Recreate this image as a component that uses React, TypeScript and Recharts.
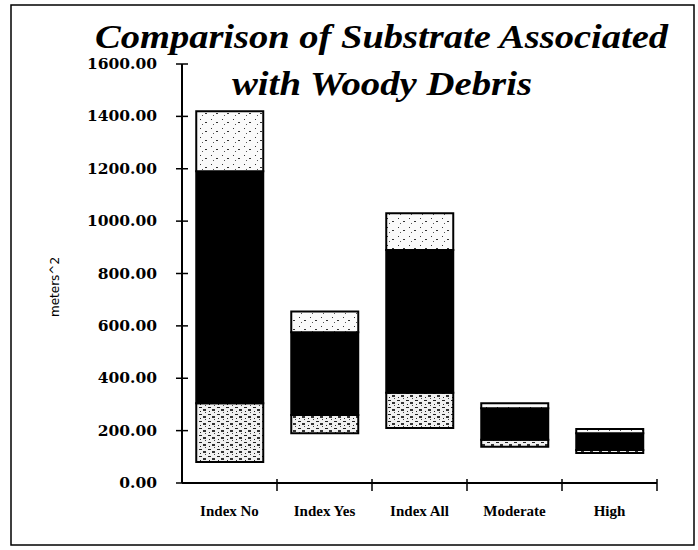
import * as React from "react";
import { BarChart, Bar, XAxis, YAxis } from "recharts";

const categories = ["Index No", "Index Yes", "Index All", "Moderate", "High"];
// invisible offset: bars float above zero
const baseValues = [80, 190, 210, 138, 115];
const lowerValues = [225, 70, 135, 27, 11];
const middleValues = [885, 316, 545, 120, 64];
const upperValues = [230, 79, 140, 20, 16];
const yTicks = [0, 200, 400, 600, 800, 1000, 1200, 1400, 1600];

const data = categories.map((name, i) => ({
  name,
  base: baseValues[i],
  lower: lowerValues[i],
  middle: middleValues[i],
  upper: upperValues[i],
}));

const W = 698;
const H = 550;
const margin = { top: 64, right: 41, bottom: 0, left: 0 };
const yAxisWidth = 182;
const xAxisHeight = 67;
const bandWidth = (W - margin.right - yAxisWidth - margin.left) / categories.length;

const YTick = (props: any) => {
  const { x, y, payload } = props;
  return (
    <g>
      <line x1={x - 6} x2={x + 6} y1={y} y2={y} stroke="#000" strokeWidth={1.5} />
      <text
        x={x - 25}
        y={y}
        dy={5}
        textAnchor="end"
        fontFamily="'DejaVu Serif', serif"
        fontWeight="bold"
        fontSize={15.5}
        fill="#000"
      >
        {payload.value.toFixed(2)}
      </text>
    </g>
  );
};

const XTick = (props: any) => {
  const { x, y, payload } = props;
  return (
    <g>
      <line x1={x + bandWidth / 2} x2={x + bandWidth / 2} y1={y - 6} y2={y + 6} stroke="#000" strokeWidth={1.5} />
      <text
        x={x}
        y={y + 31}
        textAnchor="middle"
        fontFamily="'Liberation Serif', serif"
        fontWeight="bold"
        fontSize={15}
        fill="#000"
      >
        {payload.value}
      </text>
    </g>
  );
};

export default function App() {
  return (
    <div style={{ position: "absolute", left: 0, top: 0, width: W, height: H, background: "#fff" }}>
      <BarChart width={W} height={H} data={data} margin={margin} barCategoryGap="15%">
        <defs>
          <pattern id="speckleDense" width="9" height="7" patternUnits="userSpaceOnUse">
            <rect width="9" height="7" fill="#f0f0f0" />
            <rect x="1" y="1" width="3" height="1" fill="#222" />
            <rect x="5" y="3" width="3" height="2" fill="#333" />
            <rect x="2" y="5" width="1" height="1" fill="#222" />
            <rect x="7" y="6" width="1" height="1" fill="#444" />
          </pattern>
          <pattern id="speckleLight" width="11" height="9" patternUnits="userSpaceOnUse">
            <rect width="11" height="9" fill="#fafafa" />
            <rect x="2" y="2" width="1" height="1" fill="#333" />
            <rect x="7" y="5" width="2" height="1" fill="#333" />
            <rect x="4" y="7" width="1" height="1" fill="#555" />
          </pattern>
        </defs>
        <XAxis
          dataKey="name"
          height={xAxisHeight}
          axisLine={{ stroke: "#000", strokeWidth: 2 }}
          tickLine={false}
          tickSize={0}
          tick={<XTick />}
          interval={0}
        />
        <YAxis
          width={yAxisWidth}
          domain={[0, 1600]}
          ticks={yTicks}
          axisLine={{ stroke: "#000", strokeWidth: 2 }}
          tickLine={false}
          tickSize={0}
          tickMargin={0}
          tick={<YTick />}
          interval={0}
        />
        <Bar dataKey="base" stackId="a" fill="transparent" isAnimationActive={false} />
        <Bar dataKey="lower" stackId="a" fill="url(#speckleDense)" stroke="#000" strokeWidth={2} isAnimationActive={false} />
        <Bar dataKey="middle" stackId="a" fill="#000" stroke="#000" strokeWidth={2} isAnimationActive={false} />
        <Bar dataKey="upper" stackId="a" fill="url(#speckleLight)" stroke="#000" strokeWidth={2} isAnimationActive={false} />
      </BarChart>
      <svg width={W} height={H} style={{ position: "absolute", left: 0, top: 0, pointerEvents: "none" }}>
        <rect x={11} y={5} width={683} height={540} fill="none" stroke="#000" strokeWidth={1.5} />
        <text
          x={95}
          y={48}
          textLength={573}
          lengthAdjust="spacingAndGlyphs"
          fontFamily="'Liberation Serif', serif"
          fontStyle="italic"
          fontWeight="bold"
          fontSize={34}
          fill="#000"
        >
          Comparison of Substrate Associated
        </text>
        <text
          x={232}
          y={95}
          textLength={300}
          lengthAdjust="spacingAndGlyphs"
          fontFamily="'Liberation Serif', serif"
          fontStyle="italic"
          fontWeight="bold"
          fontSize={34}
          fill="#000"
        >
          with Woody Debris
        </text>
        <text
          x={0}
          y={0}
          transform="translate(59 287) rotate(-90)"
          textAnchor="middle"
          fontFamily="'DejaVu Sans', sans-serif"
          fontSize={12}
          fill="#000"
        >
          meters^2
        </text>
      </svg>
    </div>
  );
}
